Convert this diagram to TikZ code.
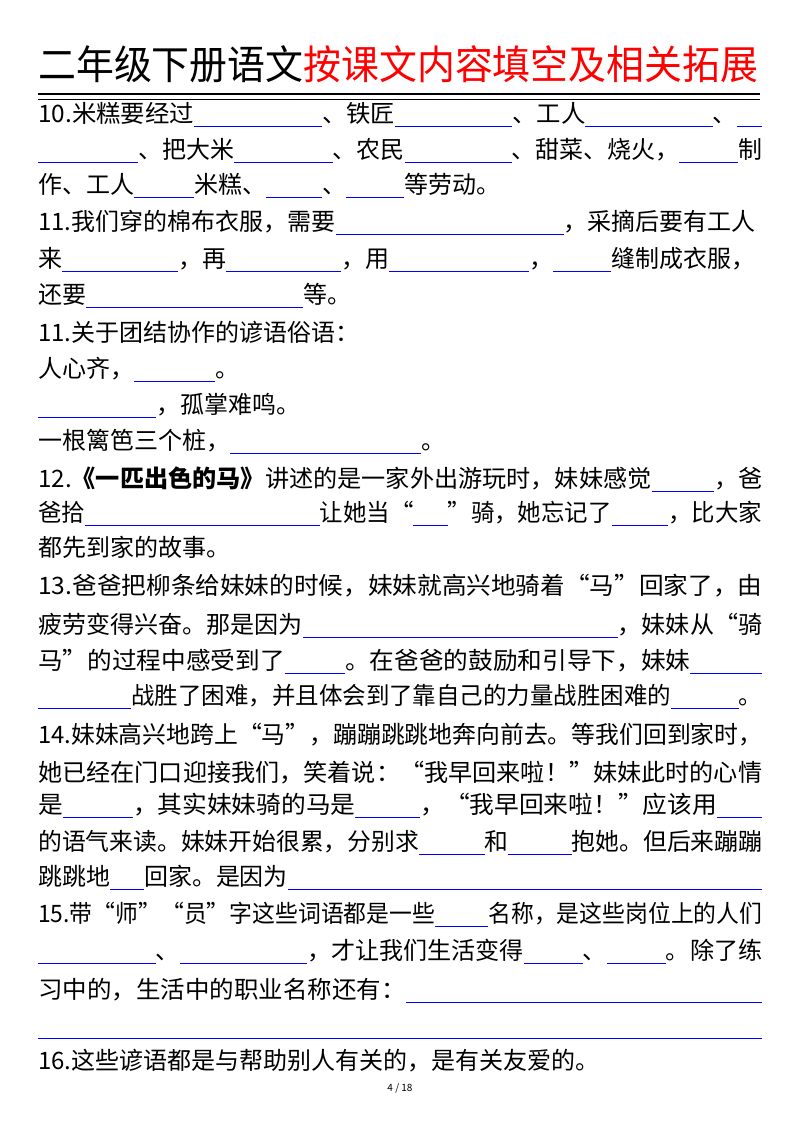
\documentclass[tikz,border=0pt]{standalone}
\usepackage{fontspec}
\usepackage{graphicx}
\setmainfont{Noto Sans CJK SC}
\newcommand\bl[1]{\textcolor{blue}{\rule[-4pt]{\dimexpr#1pt*3/4\relax}{0.8pt}}}
\newcommand\fit[1]{\resizebox{543pt}{\height}{#1}}
\begin{document}
\begin{tikzpicture}[x=0.75pt,y=-0.75pt,
  ln/.style={anchor=base west,inner sep=0pt,font=\fontsize{18pt}{18pt}\selectfont}]
\useasboundingbox (0,0) rectangle (800,1132);
\node[anchor=base west,inner sep=0pt,font=\fontsize{30pt}{30pt}\selectfont] (title) at (38,79) {\resizebox{540pt}{\height}{二年级下册语文\textcolor{red}{按课文内容填空及相关拓展}}};
\draw[line width=2.2pt] (38,94) -- (760,94);
\draw[line width=0.8pt] (38,99.5) -- (760,99.5);
\node[ln] (l1) at (38,122) {\fit{10.米糕要经过\bl{126}、铁匠\bl{115}、工人\bl{125}、\bl{25}}};
\node[ln] (l2) at (38,158) {\fit{\bl{100}、把大米\bl{99}、农民\bl{107}、甜菜、烧火，\bl{59}制}};
\node[ln] (l3) at (38,193) {作、工人\bl{60}米糕、\bl{56}、\bl{58}等劳动。};
\node[ln] (l4) at (38,230) {11.我们穿的棉布衣服，需要\bl{228}，采摘后要有工人};
\node[ln] (l5) at (38,267) {来\bl{116}，再\bl{115}，用\bl{140}，\bl{58}缝制成衣服，};
\node[ln] (l6) at (38,303) {还要\bl{217}等。};
\node[ln] (l7) at (38,341) {11.关于团结协作的谚语俗语：};
\node[ln] (l8) at (38,377) {人心齐，\bl{81}。};
\node[ln] (l9) at (38,413) {\bl{118}，孤掌难鸣。};
\node[ln] (l10) at (38,449) {一根篱笆三个桩，\bl{191}。};
\node[ln] (l11) at (38,487) {\fit{12.\textbf{《一匹出色的马》}讲述的是一家外出游玩时，妹妹感觉\bl{62}，爸}};
\node[ln] (l12) at (38,521) {\fit{爸拾\bl{240}让她当“\bl{35}”骑，她忘记了\bl{58}，比大家}};
\node[ln] (l13) at (38,556) {都先到家的故事。};
\node[ln] (l14) at (38,594) {\fit{13.爸爸把柳条给妹妹的时候，妹妹就高兴地骑着“马”回家了，由}};
\node[ln] (l15) at (38,633) {\fit{疲劳变得兴奋。那是因为\bl{314}，妹妹从“骑}};
\node[ln] (l16) at (38,669) {\fit{马”的过程中感受到了\bl{59}。在爸爸的鼓励和引导下，妹妹\bl{70}}};
\node[ln] (l17) at (38,704) {\fit{\bl{95}战胜了困难，并且体会到了靠自己的力量战胜困难的\bl{69}。}};
\node[ln] (l18) at (38,743) {\fit{14.妹妹高兴地跨上“马”，蹦蹦跳跳地奔向前去。等我们回到家时，}};
\node[ln] (l19) at (38,781) {\fit{她已经在门口迎接我们，笑着说：“我早回来啦！”妹妹此时的心情}};
\node[ln] (l20) at (38,813) {\fit{是\bl{68}，其实妹妹骑的马是\bl{63}，“我早回来啦！”应该用\bl{44}}};
\node[ln] (l21) at (38,850) {\fit{的语气来读。妹妹开始很累，分别求\bl{66}和\bl{64}抱她。但后来蹦蹦}};
\node[ln] (l22) at (38,885) {\fit{跳跳地\bl{34}回家。是因为\bl{475}}};
\node[ln] (l23) at (38,922) {\fit{15.带“师”“员”字这些词语都是一些\bl{56}名称，是这些岗位上的人们}};
\node[ln] (l24) at (38,959) {\fit{\bl{117}、\bl{127}，才让我们生活变得\bl{59}、\bl{59}。除了练}};
\node[ln] (l25) at (38,998) {\fit{习中的，生活中的职业名称还有：\bl{349}}};
\node[ln] (l26) at (38,1034) {\bl{724}};
\node[ln] (l27) at (38,1069) {16.这些谚语都是与帮助别人有关的，是有关友爱的。};
\node[anchor=base,inner sep=0pt,font=\fontsize{7.5pt}{8pt}\selectfont] (pg) at (400,1091) {4 / 18};
\end{tikzpicture}
\end{document}
